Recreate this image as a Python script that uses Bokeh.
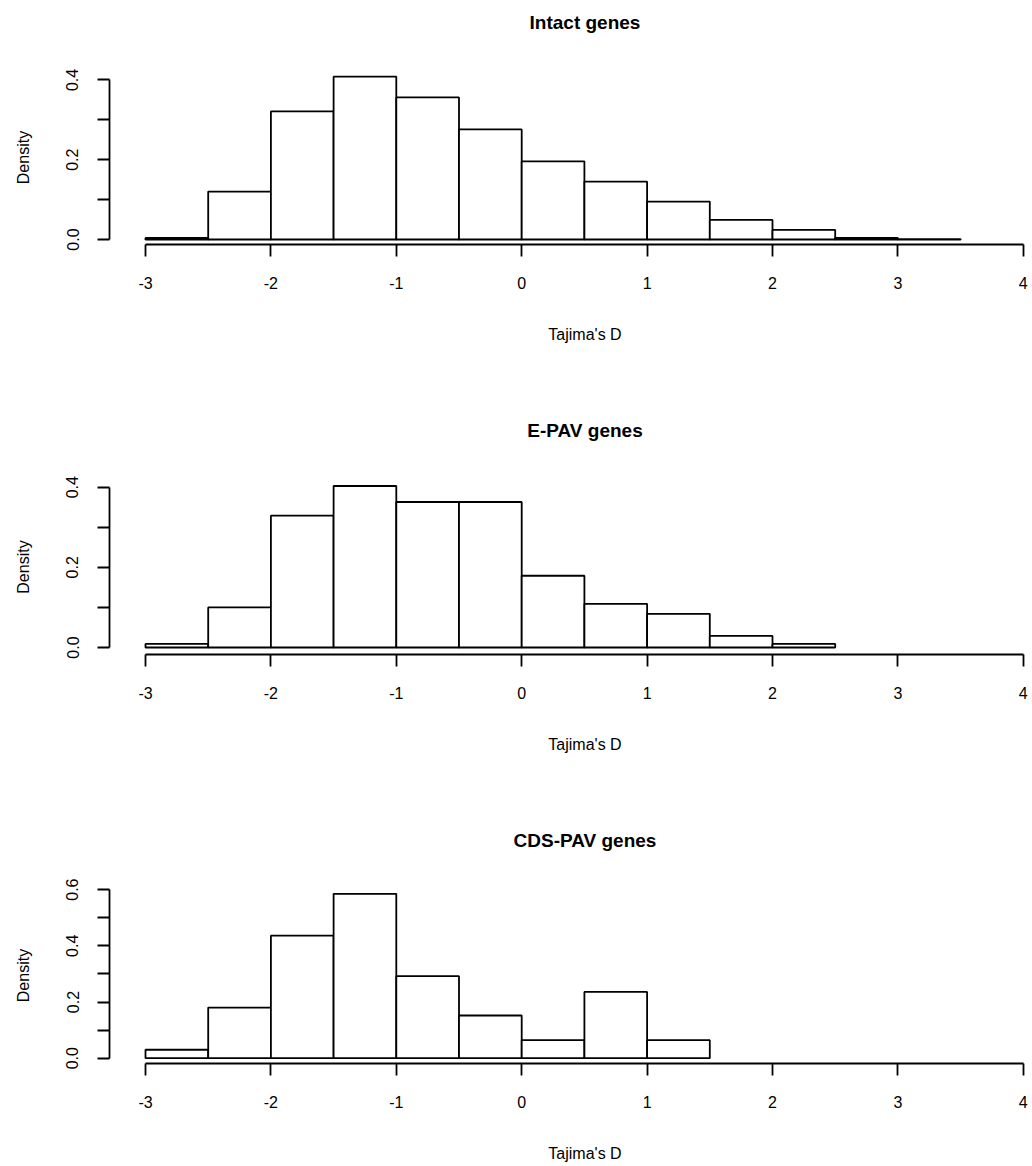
from bokeh.plotting import figure
from bokeh.models import FixedTicker, Range1d, NumeralTickFormatter, LinearAxis
from bokeh.layouts import column, row
from bokeh.embed import file_html
from bokeh.resources import INLINE

# ---------------- data ----------------
bin_width = 0.5
bin_start = -3.0
x_ticks = [-3, -2, -1, 0, 1, 2, 3, 4]
x_tick_labels = ["-3", "-2", "-1", "0", "1", "2", "3", "4"]

intact_density = [0.004, 0.120, 0.321, 0.408, 0.356, 0.276, 0.196, 0.145,
                  0.095, 0.049, 0.024, 0.004, 0.001]
epav_density = [0.009, 0.100, 0.329, 0.403, 0.363, 0.363, 0.179, 0.109,
                0.084, 0.029, 0.009]
cds_density = [0.030, 0.180, 0.436, 0.585, 0.292, 0.152, 0.064, 0.236, 0.064]

titles = ["Intact genes", "E-PAV genes", "CDS-PAV genes"]
x_label = "Tajima's D"
y_label = "Density"
y_major_ticks = [[0.0, 0.2, 0.4], [0.0, 0.2, 0.4], [0.0, 0.2, 0.4, 0.6]]
y_minor_ticks = [[0.1, 0.3], [0.1, 0.3], [0.1, 0.3, 0.5]]
series = [intact_density, epav_density, cds_density]

# ---------------- layout (page pixel geometry) ----------------
FONT = "Liberation Sans"
PX_PER_X = 125.4          # px per x-unit
X_AT_M3 = 145.0           # page px of x=-3
PAGE_W = 1032
YAXIS_X = 109             # page px of the y axis line
SPLIT_X = 138             # left strip (y axis) | main plot; keeps main frame centred on x axis
FRAME_RIGHT = 1031

panels = [
    dict(fig_top=0, fig_bottom=400, y0=239.0, scale=399.0, frame_bottom=244.0,
         frame_top=70.0, title_y=22.0),
    dict(fig_top=400, fig_bottom=800, y0=647.0, scale=400.8, frame_bottom=654.0,
         frame_top=479.0, title_y=430.0),
    dict(fig_top=800, fig_bottom=1164, y0=1057.7, scale=281.0, frame_bottom=1063.0,
         frame_top=887.0, title_y=840.0),
]


def px_to_x(px):
    return -3 + (px - X_AT_M3) / PX_PER_X


def style_common(p):
    p.outline_line_color = None
    p.xgrid.visible = False
    p.ygrid.visible = False


def make_panel(i):
    g = panels[i]
    dens = series[i]
    lefts = [bin_start + k * bin_width for k in range(len(dens))]
    rights = [l + bin_width for l in lefts]

    y_start = (g["y0"] - g["frame_bottom"]) / g["scale"]
    y_end = (g["y0"] - g["frame_top"]) / g["scale"]
    h = int(g["fig_bottom"] - g["fig_top"])
    b_top = int(g["frame_top"] - g["fig_top"])
    b_bottom = int(g["fig_bottom"] - g["frame_bottom"])
    yr = Range1d(y_start, y_end)

    # ---- left strip carrying the y axis ----
    pl = figure(width=SPLIT_X, height=h, output_backend="svg", toolbar_location=None,
                x_range=Range1d(0, 1), y_range=yr,
                x_axis_location=None, y_axis_location="left",
                min_border_left=YAXIS_X, min_border_right=0,
                min_border_top=b_top, min_border_bottom=b_bottom,
                background_fill_color="white", border_fill_color="white", title=None)
    style_common(pl)
    ya = pl.left[0]
    ya.ticker = FixedTicker(ticks=y_major_ticks[i], minor_ticks=y_minor_ticks[i])
    ya.bounds = (0, max(y_major_ticks[i]))
    ya.formatter = NumeralTickFormatter(format="0.0")
    ya.axis_line_width = 1.8
    ya.axis_line_color = "black"
    ya.major_tick_line_width = 1.8
    ya.major_tick_line_color = "black"
    ya.major_tick_out = 12
    ya.major_tick_in = 0
    ya.minor_tick_line_width = 1.8
    ya.minor_tick_line_color = "black"
    ya.minor_tick_out = 12
    ya.minor_tick_in = 0
    ya.major_label_orientation = "vertical"
    ya.major_label_standoff = 19
    ya.major_label_text_font = FONT
    ya.major_label_text_font_size = "16px"
    ya.major_label_text_color = "black"
    ya.axis_label = y_label
    ya.axis_label_text_font = FONT
    ya.axis_label_text_font_size = "16px"
    ya.axis_label_text_font_style = "normal"
    ya.axis_label_text_color = "black"
    ya.axis_label_standoff = 32

    # ---- main plot ----
    p = figure(width=PAGE_W - SPLIT_X, height=h, output_backend="svg",
               toolbar_location=None,
               x_range=Range1d(px_to_x(SPLIT_X), px_to_x(FRAME_RIGHT)), y_range=yr,
               x_axis_location="below", y_axis_location=None,
               min_border_left=0, min_border_right=PAGE_W - FRAME_RIGHT,
               min_border_top=b_top, min_border_bottom=b_bottom,
               background_fill_color="white", border_fill_color="white", title=None)
    style_common(p)

    p.quad(left=lefts, right=rights, bottom=0, top=dens,
           fill_color="white", line_color="black", line_width=1.8)

    xa = p.below[0]

    # title, drawn as the label of a bare axis above the plot
    ta = LinearAxis(ticker=FixedTicker(ticks=[]), bounds=(min(x_ticks), max(x_ticks)),
                    axis_line_color=None, major_tick_line_color=None,
                    minor_tick_line_color=None, major_tick_out=0, minor_tick_out=0,
                    major_label_text_font_size="0px", major_label_standoff=0,
                    axis_label=titles[i], axis_label_text_font=FONT,
                    axis_label_text_font_style="bold", axis_label_text_font_size="19px",
                    axis_label_text_color="black",
                    axis_label_standoff=int(g["frame_top"] - g["title_y"] - 10))
    p.add_layout(ta, "above")

    xa.ticker = FixedTicker(ticks=x_ticks)
    xa.major_label_overrides = {t: lab for t, lab in zip(x_ticks, x_tick_labels)}
    xa.bounds = (min(x_ticks), max(x_ticks))
    xa.axis_line_width = 1.8
    xa.axis_line_color = "black"
    xa.major_tick_line_width = 1.8
    xa.major_tick_line_color = "black"
    xa.major_tick_out = 12
    xa.major_tick_in = 0
    xa.minor_tick_line_color = None
    xa.major_label_standoff = 20
    xa.major_label_text_font = FONT
    xa.major_label_text_font_size = "16px"
    xa.major_label_text_color = "black"
    xa.axis_label = x_label
    xa.axis_label_text_font = FONT
    xa.axis_label_text_font_size = "16px"
    xa.axis_label_text_font_style = "normal"
    xa.axis_label_text_color = "black"
    xa.axis_label_standoff = 34

    return row(pl, p, spacing=0)


layout = column(*[make_panel(i) for i in range(3)], spacing=0)

with open("out.html", "w") as f:
    f.write(file_html(layout, INLINE))
